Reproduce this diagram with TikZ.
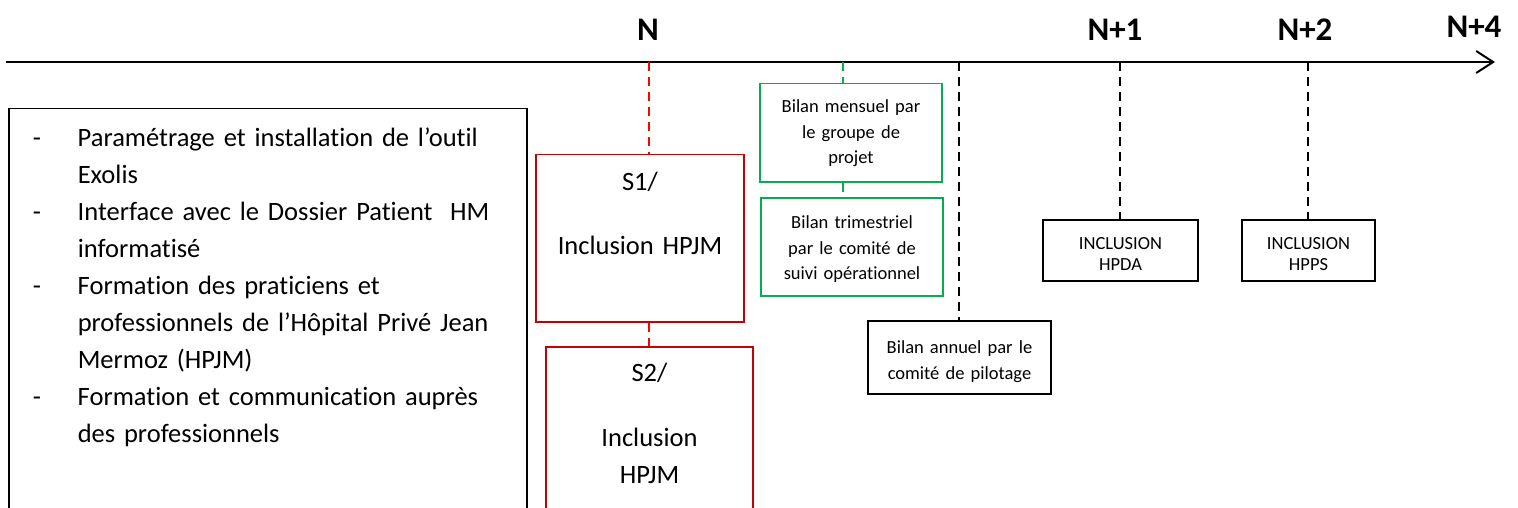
\documentclass[tikz,border=0pt]{standalone}
\usepackage{fontspec}
\setmainfont{Carlito}[Ligatures=NoCommon]
\usetikzlibrary{arrows.meta}
\definecolor{boxred}{RGB}{200,0,0}
\definecolor{linered}{RGB}{255,0,0}
\definecolor{boxgreen}{RGB}{0,176,80}

\begin{document}
\begin{tikzpicture}[x=1pt,y=-1pt]

      \tikzstyle{every node}=[inner sep=0pt,align=center]
      \tikzstyle{year}=[anchor=base,font=\fontsize{33}{40}\selectfont\bfseries]
      \tikzstyle{bigbox}=[draw,line width=1.5pt,anchor=north,
                          font=\fontsize{26.5}{37}\selectfont]
      \tikzstyle{smallbox}=[draw,line width=1.5pt,anchor=north,
                            font=\fontsize{18.5}{25.5}\selectfont]
      \tikzstyle{tick}=[dash pattern=on 9pt off 6pt,line width=1.5pt]

      %\tikzstyle{every label}=[distance=5mm]

      \clip (0,0) rectangle (1518,508);

      % axe du temps
      \coordinate (start) at (6,62);
      \coordinate (end) at (1495,62);
      \draw[line width=2pt,-{Straight Barb[length=17pt,width=22pt]}] (start) -- (end);

      \node[year] (n) at (648,41) {N};
      \node[year] (n1) at (1115,41) {N+1};
      \node[year] (n2) at (1305,41) {N+2};
      \node[year] (n4) at (1474,38) {N+4};

      \coordinate (tN) at (649,62);
      \coordinate (tG) at (843,62);
      \coordinate (tA) at (959,62);
      \coordinate (tN1) at (1120,62);
      \coordinate (tN2) at (1308,62);

      % actions
      \node[draw,line width=1.5pt,anchor=north west,align=left,inner xsep=24pt,
            text width=470pt,text height=38pt,text depth=394pt,
            font=\fontsize{26.5}{37}\selectfont] (tasks) at (8,108)
          {\begin{tabular}[t]{@{}p{45pt}@{}l@{}}
           - & Paramétrage et installation de l’outil\\
             & Exolis\\
           - & Interface avec le Dossier Patient\ \ HM\\
             & informatisé\\
           - & Formation des praticiens et\\
             & professionnels de l’Hôpital Privé Jean\\
             & Mermoz (HPJM)\\
           - & Formation et communication auprès\\
             & des professionnels
           \end{tabular}};

      % semestres
      \node[bigbox,draw=boxred,text width=208pt,text height=36pt,text depth=131pt]
          (s1) at (640,154) {S1/\\[27pt]Inclusion HPJM};
      \node[bigbox,draw=boxred,text width=207pt,text height=35pt,text depth=179pt]
          (s2) at (649.5,346) {S2/\\[28pt]Inclusion\\HPJM};

      % bilans
      \node[smallbox,draw=boxgreen,text width=182pt,text height=29pt,text depth=69pt]
          (mois) at (851,83) {Bilan mensuel par\\le groupe de\\projet};
      \node[smallbox,draw=boxgreen,text width=182pt,text height=31pt,text depth=67pt]
          (trim) at (852,197) {Bilan trimestriel\\par le comité de\\suivi opérationnel};
      \node[smallbox,text width=183pt,text height=33pt,text depth=40pt]
          (an) at (959.5,320) {Bilan annuel par le\\comité de pilotage};

      % inclusions
      \node[smallbox,text width=155pt,text height=30pt,text depth=31pt,
            font=\fontsize{18.5}{21}\selectfont]
          (hpda) at (1120.5,219) {INCLUSION\\HPDA};
      \node[smallbox,text width=133pt,text height=30pt,text depth=31pt,
            font=\fontsize{18.5}{21}\selectfont]
          (hpps) at (1308.5,219) {INCLUSION\\HPPS};

      % reperes
      \draw[tick,linered] (tN) -- (tN |- s1.north);
      \draw[tick,linered] (s1.south -| tN) -- (s2.north -| tN);
      \draw[tick,boxgreen] (tG) -- (tG |- mois.north);
      \draw[tick,boxgreen] (mois.south -| tG) -- (trim.north -| tG);
      \draw[tick] (tA) -- (an.north -| tA);
      \draw[tick] (tN1) -- (hpda.north -| tN1);
      \draw[tick] (tN2) -- (hpps.north -| tN2);

    \end{tikzpicture}
\end{document}
